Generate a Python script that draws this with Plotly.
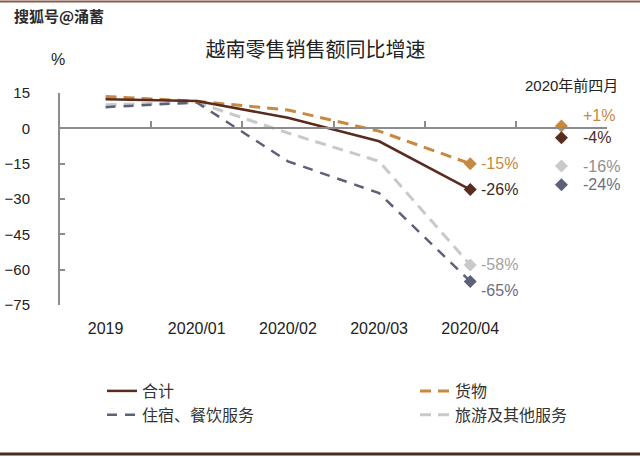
import plotly.graph_objects as go

# ---- data ----
categories = ["2019", "2020/01", "2020/02", "2020/03", "2020/04"]
series_names = ["合计", "货物", "住宿、餐饮服务", "旅游及其他服务"]
total = [12.3, 11.6, 4.5, -5.5, -26]
goods = [13.5, 11.5, 7.8, -1.2, -15]
lodging = [9.0, 11.0, -14, -27.5, -65]
tourism = [10.0, 11.0, -2, -14, -58]
ytd_label = "2020年前四月"
ytd_names = ["货物", "合计", "旅游及其他服务", "住宿、餐饮服务"]
ytd_values = [1, -4, -16, -24]
y_ticks = [15, 0, -15, -30, -45, -60, -75]

colors = {
    "合计": "#5a2b1f",
    "货物": "#c8893f",
    "住宿、餐饮服务": "#5d6079",
    "旅游及其他服务": "#c9c9c9",
}
label_colors = {
    "合计": "#3e2a24",
    "货物": "#c8893f",
    "住宿、餐饮服务": "#6b6e82",
    "旅游及其他服务": "#a3a3a3",
}
ytd_label_colors = {
    "合计": "#4a2e26",
    "货物": "#c8893f",
    "住宿、餐饮服务": "#6b6e82",
    "旅游及其他服务": "#8f8f8f",
}
dashes = {"合计": "solid", "货物": "11px,7px", "住宿、餐饮服务": "10px,8px", "旅游及其他服务": "11px,7px"}
widths = {"合计": 2.5, "货物": 3, "住宿、餐饮服务": 2.5, "旅游及其他服务": 3}
legend_of = {"合计": "legend", "住宿、餐饮服务": "legend", "货物": "legend2", "旅游及其他服务": "legend2"}
rank_of = {"合计": 1, "住宿、餐饮服务": 2, "货物": 1, "旅游及其他服务": 2}

values = {"合计": total, "货物": goods, "住宿、餐饮服务": lodging, "旅游及其他服务": tourism}

xs = list(range(len(categories)))
ytd_x = len(categories)

NUM = "Liberation Sans, Arial, sans-serif"
CJK = "Noto Sans CJK SC, sans-serif"

fig = go.Figure()
for name in ["旅游及其他服务", "住宿、餐饮服务", "货物", "合计"]:
    v = values[name]
    fig.add_trace(go.Scatter(
        x=xs, y=v, mode="lines", name=name,
        line=dict(color=colors[name], width=widths[name], dash=dashes[name]),
        legend=legend_of[name], legendrank=rank_of[name],
        cliponaxis=False, hoverinfo="skip",
    ))
    fig.add_trace(go.Scatter(
        x=[xs[-1]], y=[v[-1]], mode="markers", showlegend=False,
        marker=dict(symbol="diamond", color=colors[name], size=10, line=dict(width=0)),
        cliponaxis=False, hoverinfo="skip",
    ))

fig.add_trace(go.Scatter(
    x=[ytd_x] * len(ytd_values), y=ytd_values, mode="markers", showlegend=False,
    marker=dict(symbol="diamond", size=10, color=[colors[n] for n in ytd_names], line=dict(width=0)),
    cliponaxis=False, hoverinfo="skip",
))

# zero-line axis carrier
fig.add_trace(go.Scatter(x=[xs[0]], y=[0], xaxis="x2", mode="markers",
                         marker=dict(opacity=0), showlegend=False, hoverinfo="skip"))


def pct(v):
    return f"{v:+d}%" if v > 0 else f"{v:d}%"


annotations = []
for name in series_names:
    v = values[name][-1]
    annotations.append(dict(
        x=xs[-1], y=v, xref="x", yref="y", text=pct(v),
        showarrow=False, xanchor="left", yanchor="middle", xshift=9,
        yshift=-9 if name == "住宿、餐饮服务" else 0,
        font=dict(family=NUM, size=16, color=label_colors[name]),
    ))
for name, v in zip(ytd_names, ytd_values):
    annotations.append(dict(
        x=ytd_x, y=v, xref="x", yref="y", text=pct(v),
        showarrow=False, xanchor="left", yanchor="middle", xshift=20,
        yshift=10 if v > 0 else 0,
        font=dict(family=NUM, size=16, color=ytd_label_colors[name]),
    ))


def py(p):  # pixel y -> paper y
    return (305 - p) / 212


def px(p):  # pixel x -> paper x
    return (p - 60) / 547


annotations += [
    dict(x=px(58), y=py(60), xref="paper", yref="paper", text="%", showarrow=False,
         xanchor="center", yanchor="middle", font=dict(family=NUM, size=16, color="#222")),
    dict(x=px(620), y=py(85), xref="paper", yref="paper", text=ytd_label, showarrow=False,
         xanchor="right", yanchor="middle", font=dict(family=NUM + ", " + CJK, size=15, color="#222")),
    dict(x=px(12), y=py(15), xref="paper", yref="paper", text="<b>搜狐号@涌蓄</b>", showarrow=False,
         xanchor="left", yanchor="middle", font=dict(family=CJK, size=15, color="#2b2b2b")),
]

axis_gray = "#8c8c8c"
fig.update_layout(
    width=640, height=457,
    margin=dict(l=60, r=33, t=93, b=152, autoexpand=False),
    paper_bgcolor="white", plot_bgcolor="white",
    title=dict(text="越南零售销售额同比增速", x=0.493, xanchor="center", y=1 - 50 / 457, yanchor="middle",
               font=dict(family=CJK, size=20, color="#222")),
    xaxis=dict(range=[-0.5, ytd_x + 0.5], tickvals=xs, ticktext=categories, showline=False,
               showgrid=False, zeroline=False, ticks="", ticklabelstandoff=12, automargin=False,
               tickfont=dict(family=NUM, size=16, color="#222")),
    xaxis2=dict(range=[-0.5, ytd_x + 0.5], overlaying="x", anchor="free", automargin=False,
                position=(0 - y_ticks[-1]) / (y_ticks[0] - y_ticks[-1]), side="bottom",
                tickvals=[i + 0.5 for i in range(ytd_x + 1)], ticks="inside", ticklen=6,
                tickwidth=1.5, tickcolor=axis_gray, showline=True, linecolor=axis_gray,
                linewidth=2, showticklabels=False, showgrid=False, zeroline=False),
    yaxis=dict(range=[y_ticks[-1], y_ticks[0]], tickvals=y_ticks, ticks="inside", ticklen=5,
               tickwidth=1.5, tickcolor=axis_gray, showline=True, linecolor=axis_gray, linewidth=2,
               showgrid=False, zeroline=False, ticklabelstandoff=25, automargin=False,
               tickfont=dict(family=NUM, size=15, color="#222")),
    legend=dict(x=px(102), y=py(374), xanchor="left", yanchor="top",
                orientation="v", font=dict(family=CJK, size=16, color="#333"),
                bgcolor="rgba(0,0,0,0)", tracegroupgap=0),
    legend2=dict(x=px(415), y=py(374), xanchor="left", yanchor="top",
                 orientation="v", font=dict(family=CJK, size=16, color="#333"),
                 bgcolor="rgba(0,0,0,0)", tracegroupgap=0),
    annotations=annotations,
    shapes=[
        dict(type="line", xref="paper", yref="paper", x0=px(0), x1=px(640),
             y0=py(1.5), y1=py(1.5), line=dict(color="#8a5a4a", width=2)),
        dict(type="line", xref="paper", yref="paper", x0=px(0), x1=px(640),
             y0=py(454), y1=py(454), line=dict(color="#4a2a22", width=3)),
    ],
    showlegend=True,
)

fig.write_html("out.html", config={"displayModeBar": False},
               post_script="document.body.style.margin='0';document.body.style.padding='0';")
